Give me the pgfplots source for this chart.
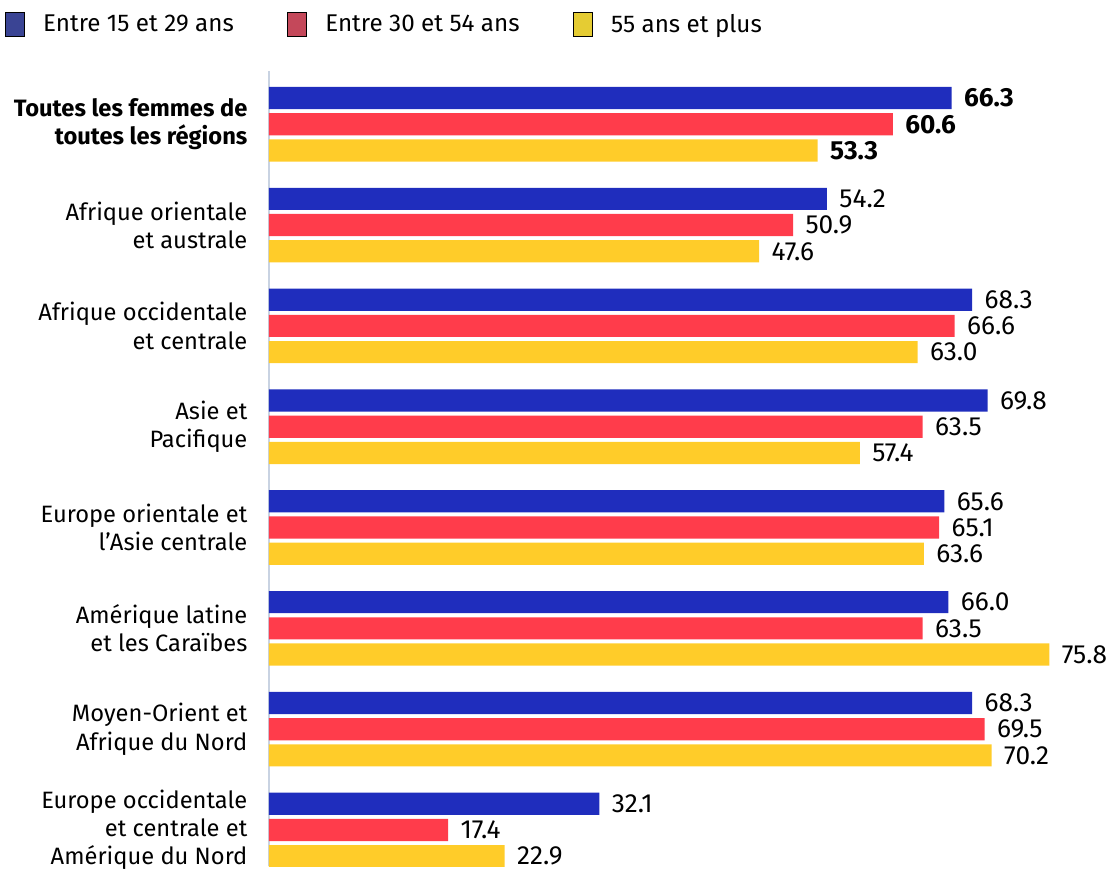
\documentclass[border=0pt]{standalone}
\usepackage{fontspec}
\setmainfont{Fira Sans}
\usepackage{pgfplots}
\pgfplotsset{compat=1.18}

\definecolor{cblue}{HTML}{1F2DBD}
\definecolor{cred}{HTML}{FF3C4B}
\definecolor{cyellow}{HTML}{FFCC29}
\definecolor{lblue}{HTML}{3A4494}
\definecolor{lred}{HTML}{C4485A}
\definecolor{lyellow}{HTML}{E5CC33}
\definecolor{axisgray}{HTML}{C9D3E2}

\begin{document}
\begin{tikzpicture}
\begin{axis}[
    scale only axis,
    width=408.5pt, height=394.5pt,
    xbar,
    xmin=0, xmax=80,
    ymin=-0.36, ymax=7.53,
    axis x line=none,
    axis y line*=left,
    y axis line style={draw=axisgray, line width=1pt},
    major tick length=0pt,
    ytick={0,...,7},
    yticklabels={
        {Europe occidentale\\et centrale et\\Amérique du Nord},
        {Moyen-Orient et\\Afrique du Nord},
        {Amérique latine\\et les Caraïbes},
        {Europe orientale et\\l’Asie centrale},
        {Asie et\\Pacifique},
        {Afrique occidentale\\et centrale},
        {Afrique orientale\\et australe},
        {\textbf{Toutes les femmes de}\\\textbf{toutes les régions}}},
    yticklabel style={align=right, font=\fontsize{11.75}{14}\selectfont,
        inner sep=0pt, xshift=-10.5pt},
    bar width=11pt,
    nodes near coords,
    point meta=explicit symbolic,
    nodes near coords style={font=\fontsize{13}{15}\selectfont, anchor=west,
        inner sep=0pt, xshift=6pt},
    legend columns=3,
    legend style={draw=none, fill=none, inner xsep=2.5pt, inner ysep=5pt,
        at={(axis description cs:-0.327,1.058)}, anchor=west,
        font=\fontsize{12}{14}\selectfont,
        /tikz/every even column/.append style={column sep=24.5pt},
        /tikz/every odd column/.append style={column sep=7pt}},
    legend image code/.code={\fill[#1] (0pt,-6pt) rectangle (9.5pt,6pt);},
]
\addlegendimage{fill=lblue}
\addlegendentry{Entre 15 et 29 ans}
\addlegendimage{fill=lred}
\addlegendentry{Entre 30 et 54 ans}
\addlegendimage{fill=lyellow}
\addlegendentry{55 ans et plus}

\addplot[fill=cblue, draw=none, bar shift=13pt, forget plot] coordinates {
    (66.3,7) [\textbf{66.3}]
    (54.2,6) [54.2]
    (68.3,5) [68.3]
    (69.8,4) [69.8]
    (65.6,3) [65.6]
    (66.0,2) [66.0]
    (68.3,1) [68.3]
    (32.1,0) [32.1]
};
\addplot[fill=cred, draw=none, bar shift=0pt, forget plot] coordinates {
    (60.6,7) [\textbf{60.6}]
    (50.9,6) [50.9]
    (66.6,5) [66.6]
    (63.5,4) [63.5]
    (65.1,3) [65.1]
    (63.5,2) [63.5]
    (69.5,1) [69.5]
    (17.4,0) [17.4]
};
\addplot[fill=cyellow, draw=none, bar shift=-13pt, forget plot] coordinates {
    (53.3,7) [\textbf{53.3}]
    (47.6,6) [47.6]
    (63.0,5) [63.0]
    (57.4,4) [57.4]
    (63.6,3) [63.6]
    (75.8,2) [75.8]
    (70.2,1) [70.2]
    (22.9,0) [22.9]
};
\end{axis}
\end{tikzpicture}
\end{document}
